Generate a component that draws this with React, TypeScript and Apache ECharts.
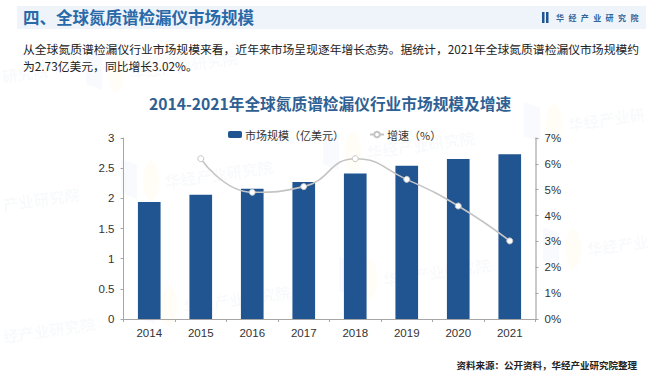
import React, { useEffect, useRef } from "react";
import * as echarts from "echarts";

const years = ["2014", "2015", "2016", "2017", "2018", "2019", "2020", "2021"];
const marketSize = [1.94, 2.06, 2.16, 2.27, 2.41, 2.54, 2.65, 2.73];
const growth = [null, 6.2, 4.9, 5.12, 6.2, 5.4, 4.37, 3.02];
const heading = "四、全球氮质谱检漏仪市场规模";
const brand = "华经产业研究院";
const bodyLine1 = "从全球氮质谱检漏仪行业市场规模来看，近年来市场呈现逐年增长态势。据统计，2021年全球氮质谱检漏仪市场规模约";
const bodyLine2 = "为2.73亿美元，同比增长3.02%。";
const chartTitle = "2014-2021年全球氮质谱检漏仪行业市场规模及增速";
const source = "资料来源：公开资料，华经产业研究院整理";
const watermarks: [number, number, string, boolean][] = [
  [165, 181, "华经产业研究院", true],
  [367, 152, "华经产业研究院", true],
  [383, 279, "华经产业研究院", true],
  [183, 306, "华经产业研究院", true],
  [3, 204, "产业研究院", false],
  [3, 336, "经产业研究院", false],
  [568, 124, "华经产业研", true],
  [587, 249, "华经产业", true],
  [130, 72, "华经产业研究院", true],
  [2, 76, "研究院", false],
];

const CJK = '"Noto Sans CJK SC", sans-serif';

export default function App() {
  const ref = useRef<HTMLDivElement>(null);
  useEffect(() => {
    const chart = echarts.init(ref.current!, undefined, { renderer: "svg" });
    const wm: any[] = [];
    watermarks.forEach(([x, y, label, blob]) => {
      if (blob) {
        wm.push({
          type: "polygon", silent: true, z: 0,
          shape: { points: [[x - 44, y - 22], [x - 28, y - 16], [x - 28, y + 18], [x - 44, y + 12]] },
          style: { fill: "rgba(90,130,200,0.04)" },
        });
        wm.push({
          type: "ellipse", silent: true, z: 0,
          shape: { cx: x - 14, cy: y, rx: 8, ry: 20 },
          style: { fill: "rgba(250,225,120,0.07)" },
        });
      }
      wm.push({
        type: "text", silent: true, z: 0, x, y, rotation: 0.14,
        style: { text: label, fill: "rgba(70,100,150,0.05)", font: `bold 15.5px ${CJK}`, textVerticalAlign: "middle" },
      });
    });
    chart.setOption({
      animation: false,
      backgroundColor: "#ffffff",
      textStyle: { fontFamily: '"Liberation Sans", sans-serif' },
      graphic: [
        ...wm,
        { type: "rect", silent: true, z: 1, shape: { x: 17, y: 6, width: 629, height: 23 }, style: { fill: "#eff4fa" } },
        { type: "text", z: 2, x: 23, y: 17, style: { text: heading, fill: "#2a69a8", font: `bold 16.5px ${CJK}`, textVerticalAlign: "middle" } },
        { type: "rect", z: 2, shape: { x: 542, y: 12, width: 2.5, height: 11 }, style: { fill: "#1f5590" } },
        { type: "rect", z: 2, shape: { x: 546, y: 12, width: 2.5, height: 11 }, style: { fill: "#1f5590" } },
        ...brand.split("").map((c, i) => ({
          type: "text", z: 2, x: 556 + i * 12.4, y: 17,
          style: { text: c, fill: "#33649a", font: `bold 8px ${CJK}`, textVerticalAlign: "middle" },
        })),
        { type: "text", z: 2, x: 23, y: 48, style: { text: bodyLine1, fill: "#222222", font: `11.8px ${CJK}`, textVerticalAlign: "middle" } },
        { type: "text", z: 2, x: 23, y: 65, style: { text: bodyLine2, fill: "#222222", font: `11.8px ${CJK}`, textVerticalAlign: "middle" } },
        { type: "text", z: 2, x: 330, y: 103, style: { text: chartTitle, fill: "#2f5f93", font: `bold 15.7px ${CJK}`, textAlign: "center", textVerticalAlign: "middle" } },
        { type: "text", z: 2, x: 637, y: 365, style: { text: source, fill: "#222222", font: `bold 9.5px ${CJK}`, textAlign: "right", textVerticalAlign: "middle" } },
      ],
      legend: {
        top: 124,
        left: 223,
        itemWidth: 14,
        itemHeight: 7,
        itemGap: 25,
        textStyle: { fontFamily: CJK, fontSize: 11, color: "#333333", padding: [0, 0, 0, -2] },
        data: [{ name: "市场规模（亿美元）" }, { name: "增速（%）" }],
      },
      grid: { left: 123.5, right: 124.5, top: 138, bottom: 55 },
      xAxis: {
        type: "category",
        data: years,
        axisLine: { lineStyle: { color: "#a6a6a6", width: 1 } },
        axisTick: { show: true, alignWithLabel: false, length: 3, lineStyle: { color: "#a6a6a6" } },
        axisLabel: { color: "#333333", fontSize: 11.5, margin: 8 },
      },
      yAxis: [
        {
          type: "value", min: 0, max: 3, interval: 0.5,
          axisLine: { show: true, lineStyle: { color: "#a6a6a6", width: 1 } },
          axisTick: { show: true, length: 3, lineStyle: { color: "#a6a6a6" } },
          axisLabel: { color: "#333333", fontSize: 11.5, margin: 9 },
          splitLine: { show: false },
        },
        {
          type: "value", min: 0, max: 7, interval: 1, position: "right",
          axisLine: { show: true, lineStyle: { color: "#b8b8b8", width: 1.5 } },
          axisTick: { show: true, length: 3, lineStyle: { color: "#a6a6a6" } },
          axisLabel: { color: "#333333", fontSize: 11.5, margin: 9, formatter: "{value}%" },
          splitLine: { show: false },
        },
      ],
      series: [
        {
          name: "市场规模（亿美元）", type: "bar", data: marketSize, barWidth: "44%",
          itemStyle: { color: "#215591" }, z: 2,
        },
        {
          name: "增速（%）", type: "line", yAxisIndex: 1, data: growth, smooth: true,
          symbol: "circle", symbolSize: 6, connectNulls: false, z: 3,
          lineStyle: { color: "#c4c4c4", width: 1.6 },
          itemStyle: { color: "#ffffff", borderColor: "#c4c4c4", borderWidth: 1 },
        },
      ],
    });
    return () => chart.dispose();
  }, []);
  return <div ref={ref} style={{ position: "absolute", left: 0, top: 0, width: 660, height: 374 }} />;
}
